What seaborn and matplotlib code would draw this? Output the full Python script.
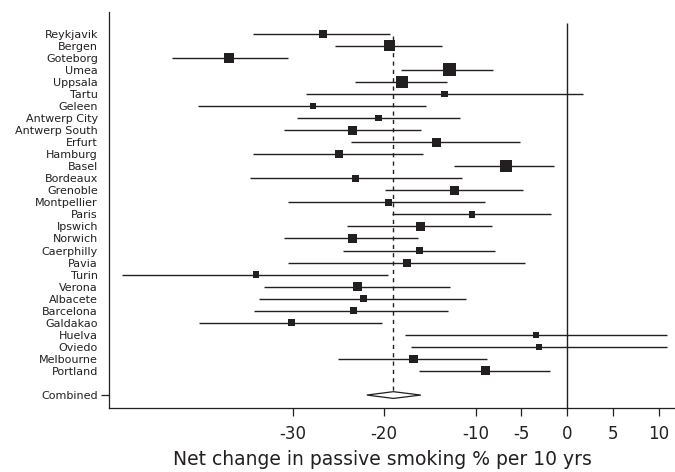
import numpy as np
import pandas as pd
import seaborn as sns
import matplotlib.pyplot as plt
from matplotlib.patches import Polygon

# study estimates: net change in passive smoking % per 10 yrs with 95% CI
centres = ["Reykjavik", "Bergen", "Goteborg", "Umea", "Uppsala", "Tartu", "Geleen",
           "Antwerp City", "Antwerp South", "Erfurt", "Hamburg", "Basel", "Bordeaux",
           "Grenoble", "Montpellier", "Paris", "Ipswich", "Norwich", "Caerphilly",
           "Pavia", "Turin", "Verona", "Albacete", "Barcelona", "Galdakao", "Huelva",
           "Oviedo", "Melbourne", "Portland"]
estimate = [-26.7, -19.4, -37.0, -12.9, -18.1, -13.4, -27.8, -20.6, -23.5, -14.3,
            -24.9, -6.7, -23.1, -12.3, -19.5, -10.4, -16.0, -23.5, -16.1, -17.5,
            -34.0, -22.9, -22.3, -23.4, -30.1, -3.4, -3.1, -16.8, -8.9]
ci_low = [-34.4, -25.4, -43.2, -18.2, -23.2, -28.6, -40.4, -29.5, -31.0, -23.6,
          -34.3, -12.4, -34.7, -19.9, -30.5, -19.2, -24.1, -31.0, -24.5, -30.5,
          -48.7, -33.2, -33.7, -34.2, -40.3, -17.7, -17.1, -25.1, -16.2]
ci_high = [-19.4, -13.7, -30.5, -8.1, -13.1, 1.7, -15.4, -11.7, -16.0, -5.2,
           -15.8, -1.4, -11.5, -4.8, -9.0, -1.8, -8.2, -16.3, -7.9, -4.6,
           -19.6, -12.8, -11.1, -13.0, -20.2, 10.9, 10.9, -8.8, -1.9]
weight = [3.0, 6.3, 4.8, 8.0, 6.8, 2.0, 2.0, 2.3, 3.8, 3.8, 3.0, 6.8, 2.3, 3.4, 2.3,
          2.3, 3.8, 3.8, 2.3, 3.0, 2.0, 3.4, 2.3, 2.3, 2.3, 2.0, 2.0, 3.4, 3.8]

combined_label = "Combined"
combined_est = -19.0
combined_low = -21.9
combined_high = -16.0

df = pd.DataFrame({"centre": centres, "est": estimate, "lo": ci_low,
                   "hi": ci_high, "w": weight})
df["row"] = np.arange(len(df))
comb_row = len(df) + 1

plt.rcParams['font.family'] = ['DejaVu Sans']
ink = "#231f20"

fig = plt.figure(figsize=(6.75, 4.72), dpi=100)
ax = fig.add_axes([109 / 675, 1 - 408.3 / 472, 1 - 109 / 675, (408.3 - 12) / 472])

ax.hlines(df["row"], df["lo"], df["hi"], color=ink, lw=1.0, zorder=2)
sns.scatterplot(data=df, x="est", y="row", size="w", sizes=(10.9 * 2.0, 10.9 * 8.0),
                marker="s", color=ink, linewidth=0, legend=False, ax=ax, zorder=3)

# reference lines
ax.vlines(0, -0.9, 31.2, color=ink, lw=1.0, zorder=1)
ax.vlines(combined_est, 0.2, comb_row, color=ink, lw=1.0, linestyles=(0, (3, 3)), zorder=1)

# pooled estimate diamond
dh = 0.28
diamond = Polygon([(combined_low, comb_row), (combined_est, comb_row - dh),
                   (combined_high, comb_row), (combined_est, comb_row + dh)],
                  closed=True, facecolor="white", edgecolor=ink, lw=0.9, zorder=4)
ax.add_patch(diamond)

ax.set_xlim(-50.1, 11.8)
ax.set_ylim(31.1, -1.8)

ax.set_yticks(list(df["row"]) + [comb_row])
ax.set_yticklabels(centres + [combined_label], fontsize=8, color=ink)
ax.tick_params(axis="y", length=6, width=0.9, pad=2, colors=ink)
for t in ax.yaxis.get_major_ticks()[:-1]:
    t.tick1line.set_visible(False)

ax.set_xticks([-30, -20, -10, -5, 0, 5, 10])
ax.set_xticklabels(["-30", "-20", "-10", "-5", "0", "5", "10"], fontsize=12, color=ink)
ax.tick_params(axis="x", length=6, width=0.9, pad=6, colors=ink)
ax.set_xlabel("Net change in passive smoking % per 10 yrs", fontsize=13.5, color=ink)
ax.xaxis.set_label_coords(0.483, -0.106)
ax.set_ylabel("")

for side in ["top", "right"]:
    ax.spines[side].set_visible(False)
for side in ["left", "bottom"]:
    ax.spines[side].set_linewidth(0.9)
    ax.spines[side].set_color(ink)

fig.savefig("out.png", dpi=100)
